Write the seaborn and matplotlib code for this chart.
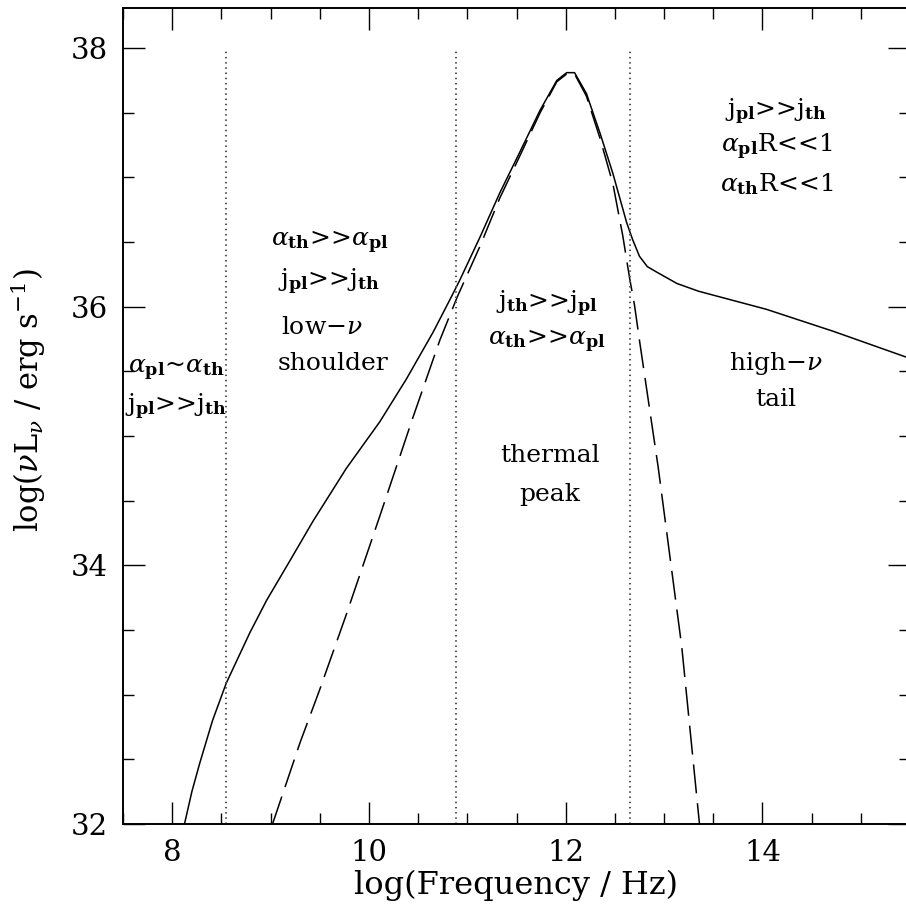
import matplotlib
matplotlib.use("Agg")
import matplotlib.pyplot as plt
import seaborn as sns
import pandas as pd
from matplotlib.ticker import MultipleLocator

# ---- data ----
total_x = [8.125, 8.20, 8.28, 8.41, 8.55, 8.79, 8.96, 9.20, 9.43, 9.77, 10.11, 10.38, 10.65,
           10.82, 10.92, 11.13, 11.33, 11.53, 11.74, 11.91, 12.01, 12.09, 12.21, 12.35,
           12.48, 12.62, 12.68, 12.75, 12.83, 12.92, 13.13, 13.35, 14.04, 14.72, 15.5]
total_y = [32.00, 32.25, 32.47, 32.80, 33.09, 33.48, 33.73, 34.04, 34.34, 34.75, 35.11, 35.44, 35.80,
           36.05, 36.20, 36.54, 36.88, 37.19, 37.52, 37.75, 37.81, 37.81, 37.65, 37.34,
           37.03, 36.65, 36.52, 36.39, 36.31, 36.27, 36.18, 36.12, 35.98, 35.81, 35.60]

thermal_x = [9.02, 9.30, 9.50, 9.77, 10.11, 10.45, 10.72, 10.90, 11.13, 11.33, 11.53, 11.74,
             11.91, 12.01, 12.09, 12.21, 12.35, 12.48, 12.58, 12.65, 12.70, 12.75, 12.94,
             13.18, 13.36]
thermal_y = [32.00, 32.63, 33.04, 33.62, 34.38, 35.15, 35.74, 36.08, 36.47, 36.84, 37.16, 37.50,
             37.74, 37.80, 37.80, 37.63, 37.30, 36.95, 36.55, 36.22, 36.01, 35.74, 34.76,
             33.37, 32.00]

region_bounds = [8.55, 10.89, 12.65]

annot_x = [8.04, 8.04, 9.60, 9.60, 9.52, 9.63, 11.81, 11.81, 11.84, 11.84,
           14.14, 14.14, 14.14, 14.14, 14.14]
annot_y = [35.51, 35.23, 36.50, 36.19, 35.84, 35.56, 36.02, 35.73, 34.85, 34.55,
           37.51, 37.24, 36.95, 35.56, 35.28]
annot_text = [
    r'$\alpha_{\mathbf{pl}}$~$\alpha_{\mathbf{th}}$',
    r'j$_{\mathbf{pl}}$>>j$_{\mathbf{th}}$',
    r'$\alpha_{\mathbf{th}}$>>$\alpha_{\mathbf{pl}}$',
    r'j$_{\mathbf{pl}}$>>j$_{\mathbf{th}}$',
    r'low$-\nu$',
    'shoulder',
    r'j$_{\mathbf{th}}$>>j$_{\mathbf{pl}}$',
    r'$\alpha_{\mathbf{th}}$>>$\alpha_{\mathbf{pl}}$',
    'thermal',
    'peak',
    r'j$_{\mathbf{pl}}$>>j$_{\mathbf{th}}$',
    r'$\alpha_{\mathbf{pl}}$R<<1',
    r'$\alpha_{\mathbf{th}}$R<<1',
    r'high$-\nu$',
    'tail',
]

x_ticks = [8, 10, 12, 14]
y_ticks = [32, 34, 36, 38]

# ---- style ----
sns.set_style("ticks")
plt.rcParams['font.family'] = ['DejaVu Serif']
plt.rcParams['mathtext.fontset'] = 'dejavuserif'
for k in ['text.color', 'axes.labelcolor', 'xtick.color', 'ytick.color', 'axes.edgecolor']:
    plt.rcParams[k] = 'black'

fig = plt.figure(figsize=(9.06, 9.16), dpi=100)
ax_w_px = 910 - 123
ax = fig.add_axes([123 / 906, 1 - 824 / 916, ax_w_px / 906, (824 - 8) / 916])

df_tot = pd.DataFrame({'x': total_x, 'y': total_y})
df_th = pd.DataFrame({'x': thermal_x, 'y': thermal_y})

lw = 1.1
sns.lineplot(data=df_tot, x='x', y='y', ax=ax, color='black', lw=lw,
             estimator=None, sort=False)
sns.lineplot(data=df_th, x='x', y='y', ax=ax, color='black', lw=lw,
             estimator=None, sort=False, linestyle=(0, (19.0, 6.5)))

for xb in region_bounds:
    ax.plot([xb, xb], [32, 38], color='#555555', lw=1.5, linestyle=(0, (0.7, 1.8)))

for tx, ty, s in zip(annot_x, annot_y, annot_text):
    ax.text(tx, ty, s, ha='center', va='center', fontsize=18, color='black')

ax.set_xlim(7.5, 15.5)
ax.set_ylim(32, 38.31)
ax.set_xticks(x_ticks)
ax.set_yticks(y_ticks)
ax.set_xticklabels([str(v) for v in x_ticks])
ax.set_yticklabels([str(v) for v in y_ticks])
ax.xaxis.set_minor_locator(MultipleLocator(0.5))
ax.yaxis.set_minor_locator(MultipleLocator(0.5))
ax.tick_params(which='both', direction='in', top=True, right=True, width=1.0, color='black')
ax.tick_params(which='major', length=16, labelsize=21, pad=11)
ax.tick_params(which='minor', length=8)
for sp in ax.spines.values():
    sp.set_linewidth(1.4)
    sp.set_color('black')

ax.set_xlabel('log(Frequency / Hz)', fontsize=23, labelpad=2)
ax.set_ylabel(r'log($\nu$L$_\nu$ / erg s$^{-1}$)', fontsize=22)
ax.yaxis.set_label_coords((48 - 123) / ax_w_px, (824 - 400) / 816)

fig.savefig('out.png', dpi=100)
